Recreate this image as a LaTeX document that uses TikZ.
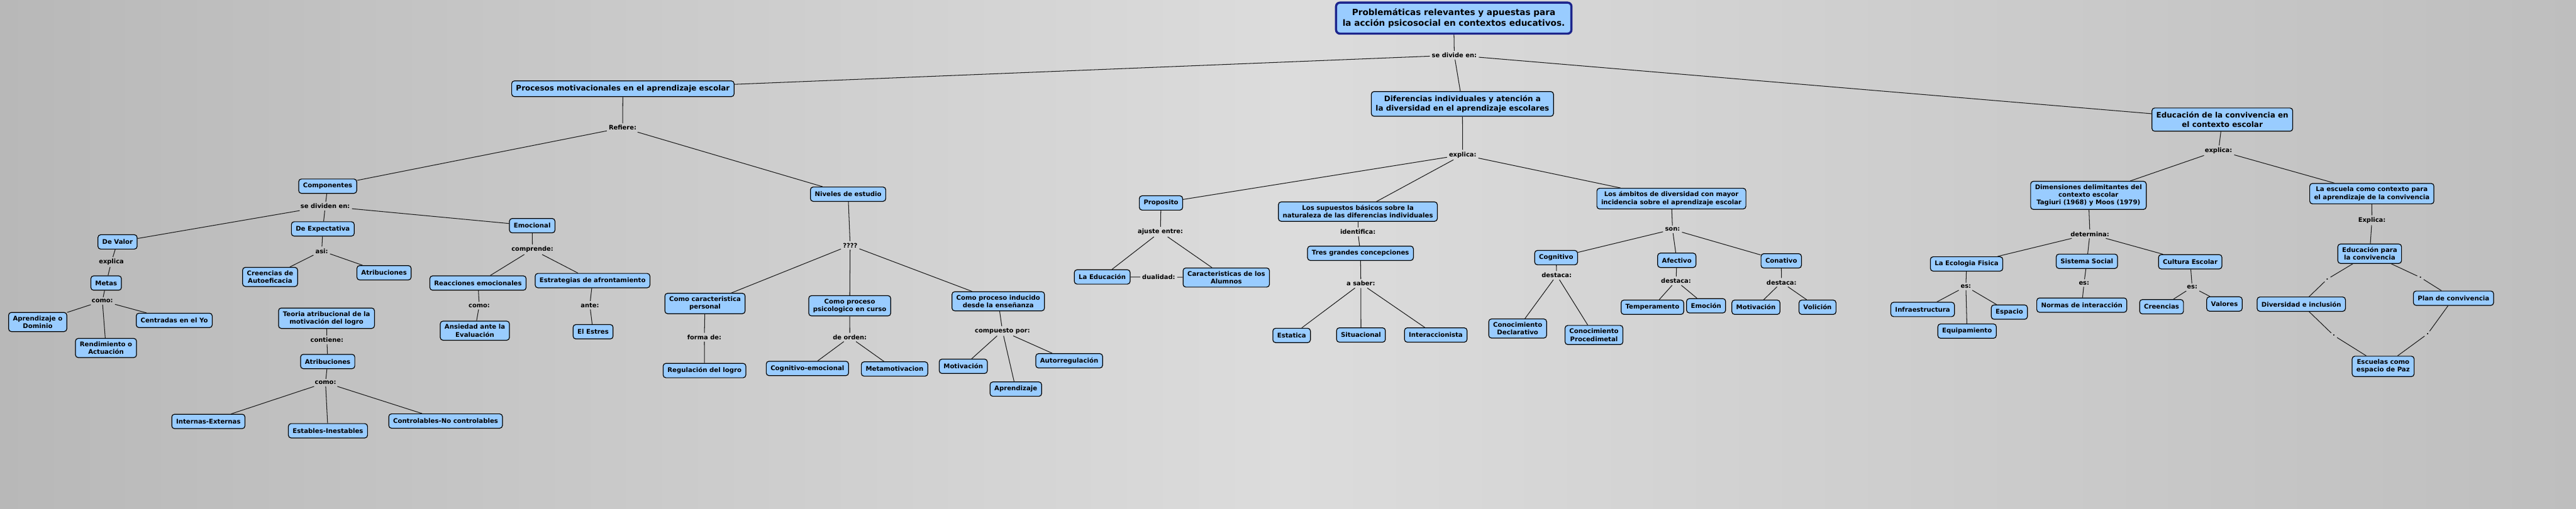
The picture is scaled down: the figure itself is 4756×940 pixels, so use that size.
\documentclass[tikz,border=0pt]{standalone}
\usepackage{fontspec}
\setmainfont{DejaVu Sans}
\definecolor{cbox}{RGB}{153,204,255}
\definecolor{tborder}{RGB}{28,36,140}
\definecolor{bgL}{RGB}{184,184,184}
\definecolor{bgM}{RGB}{220,220,220}
\definecolor{bgR}{RGB}{190,190,190}
\tikzset{
  concept/.style={draw=black, line width=1.4pt, fill=cbox, rounded corners=5pt, align=center,
    inner xsep=8pt, inner ysep=6pt, minimum height=26.5pt,
    font=\fontsize{11.8}{14.2}\selectfont\bfseries},
  bigconcept/.style={concept, inner ysep=7.5pt, minimum height=29pt,
    font=\fontsize{13.9}{16.6}\selectfont\bfseries},
  titleconcept/.style={concept, draw=tborder, line width=4pt, rounded corners=7pt, inner xsep=12pt, inner ysep=11pt,
    font=\fontsize{15.8}{19.3}\selectfont\bfseries},
  link/.style={inner sep=3.5pt, font=\fontsize{11.5}{13.8}\selectfont\bfseries, text=black},
  conn/.style={line width=1.2pt, draw=black!90}
}
\begin{document}
\begin{tikzpicture}[x=1pt,y=-1pt]
\useasboundingbox (0,0) rectangle (4756,940);
\shade[left color=bgL, right color=bgR, middle color=bgM] (0,0) rectangle (4756,940);

% top
\node[titleconcept] (title) at (2684,33.5) {Problemáticas relevantes y apuestas para\\la acción psicosocial en contextos educativos.};
\node[link] (sdiv) at (2685,102) {se divide en:};
\node[bigconcept] (proc) at (1150,164) {Procesos motivacionales en el aprendizaje escolar};
\node[bigconcept] (dif) at (2700,192) {Diferencias individuales y atención a\\la diversidad en el aprendizaje escolares};
\node[bigconcept] (edc) at (4103,221) {Educación de la convivencia en\\el contexto escolar};

% left branch
\node[link] (refiere) at (1149.5,236) {Refiere:};
\node[concept] (comp) at (605,344) {Componentes};
\node[link] (sdividen) at (600.5,381) {se dividen en:};
\node[concept] (devalor) at (217,447) {De Valor};
\node[link] (explica1) at (205.6,484) {explica};
\node[concept] (metas) at (196,523) {Metas};
\node[link] (como1) at (189,556) {como:};
\node[concept] (aprend) at (69.6,595) {Aprendizaje o\\Dominio};
\node[concept] (centr) at (321.7,592) {Centradas en el Yo};
\node[concept] (rend) at (195.7,643) {Rendimiento o\\Actuación};
\node[concept] (deexp) at (596,423) {De Expectativa};
\node[link] (asi) at (594,463.7) {asi:};
\node[concept] (creen) at (498.7,511.7) {Creencias de\\Autoeficacia};
\node[concept] (atrib1) at (709,504) {Atribuciones};
\node[concept] (teoria) at (602.8,588) {Teoria atribucional de la\\motivación del logro};
\node[link] (contiene) at (603.6,628) {contiene:};
\node[concept] (atrib2) at (605,668) {Atribuciones};
\node[link] (como2) at (601,707) {como:};
\node[concept] (intext) at (384.7,778.7) {Internas-Externas};
\node[concept] (estin) at (605.5,796) {Estables-Inestables};
\node[concept] (contr) at (822.7,778) {Controlables-No controlables};
\node[concept] (emoc) at (982.6,417) {Emocional};
\node[link] (comprende) at (983,461) {comprende:};
\node[concept] (reac) at (882.5,523) {Reacciones emocionales};
\node[link] (como3) at (884.8,564.7) {como:};
\node[concept] (ansi) at (876.7,611) {Ansiedad ante la\\Evaluación};
\node[concept] (estr) at (1094,518.5) {Estrategias de afrontamiento};
\node[link] (ante) at (1089,564) {ante:};
\node[concept] (estres) at (1095,613) {El Estres};
\node[concept] (niv) at (1565.8,358.8) {Niveles de estudio};
\node[link] (q) at (1569.6,453.3) {????};
\node[concept] (ccp) at (1301.6,560.8) {Como caracteristica\\personal};
\node[concept] (cpp) at (1568.8,565) {Como proceso\\psicologico en curso};
\node[concept] (cpi) at (1843,556.7) {Como proceso inducido\\desde la enseñanza};
\node[link] (forma) at (1300.4,623) {forma de:};
\node[concept] (regul) at (1300.7,684.7) {Regulación del logro};
\node[link] (orden) at (1569,623) {de orden:};
\node[concept] (cogem) at (1490.7,680.8) {Cognitivo-emocional};
\node[concept] (meta) at (1651.6,681.8) {Metamotivacion};
\node[link] (compuesto) at (1850.8,611.7) {compuesto por:};
\node[concept] (motiv1) at (1778.5,676.8) {Motivación};
\node[concept] (aprz) at (1875.5,719) {Aprendizaje};
\node[concept] (autor) at (1974,666.7) {Autorregulación};

% middle branch
\node[link] (explica2) at (2700.5,286) {explica:};
\node[concept] (prop) at (2143.5,375) {Proposito};
\node[link] (ajuste) at (2142.4,428.3) {ajuste entre:};
\node[concept] (laedu) at (2035,511.7) {La Educación};
\node[link] (dual) at (2139.3,512) {dualidad:};
\node[concept] (caract) at (2264,512.8) {Caracteristicas de los\\Alumnos};
\node[concept] (sup) at (2507,391) {Los supuestos básicos sobre la\\naturaleza de las diferencias individuales};
\node[link] (ident) at (2507,428.7) {identifica:};
\node[concept] (tres) at (2511.8,468) {Tres grandes concepciones};
\node[link] (asaber) at (2512.5,524) {a saber:};
\node[concept] (estat) at (2384.7,619.8) {Estatica};
\node[concept] (situ) at (2512.7,619) {Situacional};
\node[concept] (inter) at (2650.8,619) {Interaccionista};
\node[concept] (amb) at (3085.8,367) {Los ámbitos de diversidad con mayor\\incidencia sobre el aprendizaje escolar};
\node[link] (son) at (3087.9,424) {son:};
\node[concept] (cogn) at (2873,476) {Cognitivo};
\node[link] (dest1) at (2874,508.7) {destaca:};
\node[concept] (cdecl) at (2802,607) {Conocimiento\\Declarativo};
\node[concept] (cproc) at (2942.9,619) {Conocimiento\\Procedimetal};
\node[concept] (afec) at (3095.8,481) {Afectivo};
\node[link] (dest2) at (3094.4,519) {destaca:};
\node[concept] (temp) at (3050.8,567.7) {Temperamento};
\node[concept] (emoci) at (3149.9,565) {Emoción};
\node[concept] (conat) at (3288.6,482) {Conativo};
\node[link] (dest3) at (3289.2,521.7) {destaca:};
\node[concept] (motiv2) at (3241.9,567.7) {Motivación};
\node[concept] (voli) at (3355.6,567.7) {Volición};

% right branch
\node[link] (explica3) at (4096,278) {explica:};
\node[concept] (dim) at (3855.8,361) {Dimensiones delimitantes del\\contexto escolar\\Tagiuri (1968) y Moos (1979)};
\node[link] (determ) at (3858.5,432.3) {determina:};
\node[concept] (ecol) at (3630.8,487.7) {La Ecologia Fisica};
\node[link] (es1) at (3629.5,529.3) {es:};
\node[concept] (infra) at (3549.7,571.8) {Infraestructura};
\node[concept] (equip) at (3631.7,611.8) {Equipamiento};
\node[concept] (espa) at (3709.8,576.7) {Espacio};
\node[concept] (sist) at (3852.9,482.8) {Sistema Social};
\node[link] (es2) at (3847.7,523) {es:};
\node[concept] (normas) at (3843.5,563.8) {Normas de interacción};
\node[concept] (cult) at (4043.7,483.7) {Cultura Escolar};
\node[link] (es3) at (4047.3,530.7) {es:};
\node[concept] (creen2) at (3990.8,566.8) {Creencias};
\node[concept] (valor) at (4106.9,561.7) {Valores};
\node[concept] (esc) at (4379,357.8) {La escuela como contexto para\\el aprendizaje de la convivencia};
\node[link] (Expl) at (4379.2,407) {Explica:};
\node[concept] (edpc) at (4375,468.8) {Educación para\\la convivencia};
\node[concept] (divi) at (4248.8,562) {Diversidad e inclusión};
\node[concept] (plan) at (4529.8,551) {Plan de convivencia};
\node[concept] (espaz) at (4399.9,677) {Escuelas como\\espacio de Paz};
\node[link] (d1) at (4296.8,515.7) {.};
\node[link] (d2) at (4468.8,512.7) {.};
\node[link] (d3) at (4308.9,620) {.};
\node[link] (d4) at (4482.3,616.7) {.};

\foreach \a/\b in {title/sdiv, sdiv/proc, sdiv/dif, sdiv/edc,
  proc/refiere, refiere/comp, refiere/niv,
  comp/sdividen, sdividen/devalor, sdividen/deexp, sdividen/emoc,
  devalor/explica1, explica1/metas, metas/como1, como1/aprend, como1/rend, como1/centr,
  deexp/asi, asi/creen, asi/atrib1,
  teoria/contiene, contiene/atrib2, atrib2/como2, como2/intext, como2/estin, como2/contr,
  emoc/comprende, comprende/reac, comprende/estr, reac/como3, como3/ansi, estr/ante, ante/estres,
  niv/q, q/ccp, q/cpp, q/cpi, ccp/forma, forma/regul, cpp/orden, orden/cogem, orden/meta,
  cpi/compuesto, compuesto/motiv1, compuesto/aprz, compuesto/autor,
  dif/explica2, explica2/prop, explica2/sup, explica2/amb,
  prop/ajuste, ajuste/laedu, ajuste/caract, laedu/dual, dual/caract,
  sup/ident, ident/tres, tres/asaber, asaber/estat, asaber/situ, asaber/inter,
  amb/son, son/cogn, son/afec, son/conat,
  cogn/dest1, dest1/cdecl, dest1/cproc, afec/dest2, dest2/temp, dest2/emoci,
  conat/dest3, dest3/motiv2, dest3/voli,
  edc/explica3, explica3/dim, explica3/esc, dim/determ, determ/ecol, determ/sist, determ/cult,
  ecol/es1, es1/infra, es1/equip, es1/espa, sist/es2, es2/normas, cult/es3, es3/creen2, es3/valor,
  esc/Expl, Expl/edpc, edpc/d1, d1/divi, edpc/d2, d2/plan, divi/d3, d3/espaz, plan/d4, d4/espaz}
  \draw[conn] (\a) -- (\b);
\end{tikzpicture}
\end{document}
